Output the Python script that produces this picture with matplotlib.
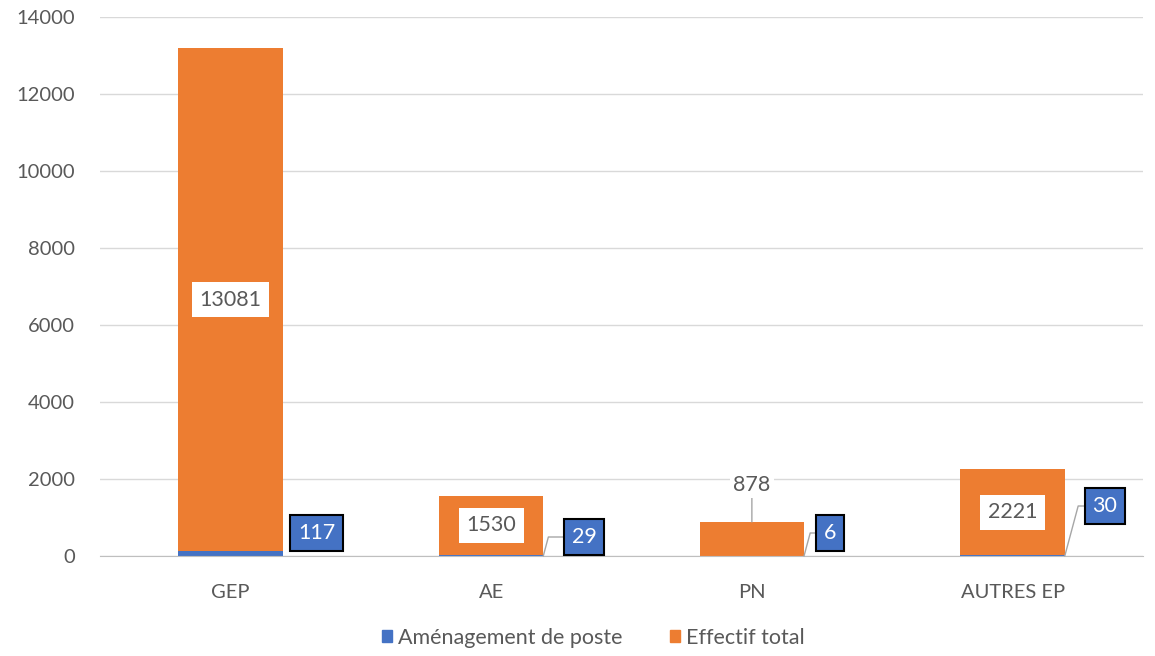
import matplotlib.pyplot as plt
from matplotlib.patches import Patch

categories = ["GEP", "AE", "PN", "AUTRES EP"]
amenagement = [117, 29, 6, 30]
effectif = [13081, 1530, 878, 2221]

BLUE = "#4472C4"
ORANGE = "#ED7D31"
GREY = "#595959"

plt.rcParams["font.family"] = ["Lato", "DejaVu Sans"]

fig = plt.figure(figsize=(11.55, 6.56), dpi=100)
ax = fig.add_axes([100 / 1155, 100 / 656, 1043 / 1155, 539 / 656])

x = range(len(categories))
w = 0.4
ax.bar(x, amenagement, w, color=BLUE, zorder=2)
ax.bar(x, effectif, w, bottom=amenagement, color=ORANGE, zorder=2)

ax.set_xlim(-0.5, len(categories) - 0.5)
ax.set_ylim(0, 14000)
ax.set_yticks(range(0, 14001, 2000))
ax.set_xticks(list(x))
ax.set_xticklabels(categories)
ax.tick_params(axis="both", length=0, labelsize=14.5, colors=GREY)
ax.tick_params(axis="y", pad=18)
ax.tick_params(axis="x", pad=20)
ax.grid(axis="y", color="#D9D9D9", linewidth=1, zorder=0)
for s in ["top", "right", "left"]:
    ax.spines[s].set_visible(False)
ax.spines["bottom"].set_color("#BFBFBF")

# orange labels (PN sits above its bar with a leader)
for i, (a, e) in enumerate(zip(amenagement, effectif)):
    if categories[i] == "PN":
        ax.annotate(str(e), xy=(i, a + e), xytext=(0, 37), textcoords="offset pixels",
                    ha="center", va="center", fontsize=15.5, color=GREY,
                    bbox=dict(boxstyle="square,pad=0.15", fc="white", ec="none"),
                    arrowprops=dict(arrowstyle="-", color="#A6A6A6", shrinkA=0, shrinkB=0),
                    zorder=4)
    else:
        ax.text(i, a + e / 2, str(e), ha="center", va="center", fontsize=15.5, color=GREY,
                bbox=dict(boxstyle="square,pad=0.35", fc="white", ec="none"), zorder=4)

# blue labels offset to the right of each bar, with leaders
offsets = [(34, 23), (41, 19), (26, 23), (40, 50)]
leaders = [False, True, True, True]
for i, a in enumerate(amenagement):
    props = None
    if leaders[i]:
        props = dict(arrowstyle="-", color="#A6A6A6", shrinkA=0, shrinkB=0,
                     connectionstyle="angle,angleA=0,angleB=75,rad=0")
    ax.annotate(str(a), xy=(i + w / 2, 0), xytext=offsets[i], textcoords="offset pixels",
                ha="center", va="center", fontsize=15.5, color="white",
                bbox=dict(boxstyle="square,pad=0.35", fc=BLUE, ec="black", lw=1.5),
                arrowprops=props, zorder=4)

handles = [Patch(color=BLUE, label="Aménagement de poste"),
           Patch(color=ORANGE, label="Effectif total")]
fig.legend(handles=handles, loc="center", bbox_to_anchor=(593 / 1155, 1 - 638 / 656), ncol=2,
           frameon=False, fontsize=15.5, handlelength=0.5, handleheight=0.5,
           handletextpad=0.25, columnspacing=2.2, labelcolor=GREY)

fig.savefig("out.png", dpi=100, facecolor="white")
